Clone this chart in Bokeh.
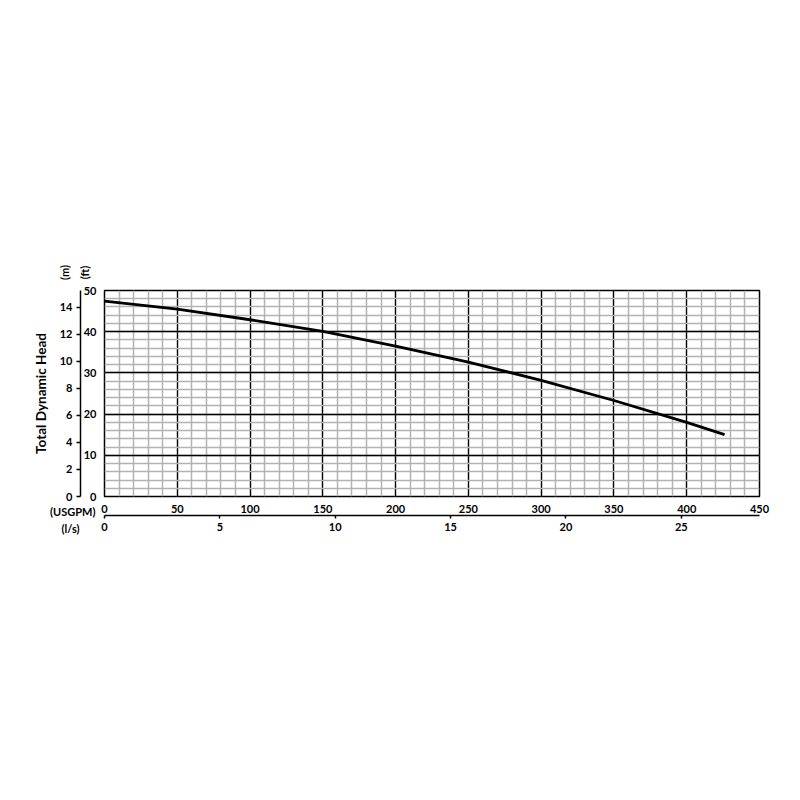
import math
from bokeh.plotting import figure
from bokeh.models import (Range1d, LinearAxis, SingleIntervalTicker, FixedTicker, Label)
from bokeh.embed import file_html
from bokeh.resources import INLINE

# Data: flow (USGPM) vs total dynamic head (ft)
flow_usgpm = [0, 50, 100, 150, 200, 250, 300, 350, 400, 426]
head_ft = [47.4, 45.5, 42.9, 40.1, 36.5, 32.6, 28.2, 23.3, 18.0, 15.0]

ft_ticks = [0, 10, 20, 30, 40, 50]
m_ticks = [0, 2, 4, 6, 8, 10, 12, 14]
usgpm_ticks = [0, 50, 100, 150, 200, 250, 300, 350, 400, 450]
ls_ticks = [0, 5, 10, 15, 20, 25]

FT_PER_M = 1 / 0.3048
USGPM_PER_LS = 15.850

FONT = "Lato"
H = 784

p = figure(frame_width=655, frame_height=206,
           x_range=Range1d(0, 450), y_range=Range1d(0, 50),
           output_backend="svg", toolbar_location=None,
           min_border_left=104, min_border_right=25,
           min_border_top=290, min_border_bottom=H - 290 - 206,
           x_axis_location="below", y_axis_location="left")
p.extra_y_ranges = {"m": Range1d(0, 50 / FT_PER_M)}
p.extra_x_ranges = {"ls": Range1d(0, 450 / USGPM_PER_LS)}

p.outline_line_color = "black"
p.outline_line_width = 1.5
p.background_fill_color = "white"
p.border_fill_color = "white"

# ft axis (default left)
ya = p.yaxis[0]
ya.ticker = SingleIntervalTicker(interval=10, num_minor_ticks=5)
ya.axis_line_color = None
ya.major_tick_out = 0
ya.major_tick_in = 0
ya.minor_tick_out = 0
ya.minor_tick_in = 0
ya.major_label_standoff = 8
ya.major_label_text_font = FONT
ya.major_label_text_font_style = "bold"
ya.major_label_text_font_size = "11px"
ya.major_label_text_color = "black"

# USGPM axis (default below)
xa = p.xaxis[0]
xa.ticker = SingleIntervalTicker(interval=50, num_minor_ticks=5)
xa.axis_line_color = None
xa.major_tick_out = 0
xa.major_tick_in = 0
xa.minor_tick_out = 0
xa.minor_tick_in = 0
xa.major_label_standoff = 8
xa.major_label_text_font = FONT
xa.major_label_text_font_style = "bold"
xa.major_label_text_font_size = "11px"
xa.major_label_text_color = "black"

# m axis
m_axis = LinearAxis(y_range_name="m", ticker=FixedTicker(ticks=m_ticks),
                    axis_label="Total Dynamic Head")
m_axis.axis_line_color = "black"
m_axis.axis_line_width = 1.5
m_axis.major_tick_out = 4
m_axis.major_tick_in = 0
m_axis.major_tick_line_width = 1.5
m_axis.minor_tick_out = 0
m_axis.minor_tick_in = 0
m_axis.major_label_standoff = 4
m_axis.major_label_text_font = FONT
m_axis.major_label_text_font_style = "bold"
m_axis.major_label_text_font_size = "11px"
m_axis.major_label_text_color = "black"
m_axis.axis_label_text_font = FONT
m_axis.axis_label_text_font_style = "bold"
m_axis.axis_label_text_font_size = "13.5px"
m_axis.axis_label_text_color = "black"
m_axis.axis_label_standoff = 8
p.add_layout(m_axis, "left")

# l/s axis
ls_axis = LinearAxis(x_range_name="ls", ticker=FixedTicker(ticks=ls_ticks))
ls_axis.axis_line_color = "black"
ls_axis.axis_line_width = 1.5
ls_axis.major_tick_out = 3
ls_axis.major_tick_in = 0
ls_axis.major_tick_line_width = 1.5
ls_axis.minor_tick_out = 0
ls_axis.minor_tick_in = 0
ls_axis.major_label_standoff = 4
ls_axis.major_label_text_font = FONT
ls_axis.major_label_text_font_style = "bold"
ls_axis.major_label_text_font_size = "11px"
ls_axis.major_label_text_color = "black"
p.add_layout(ls_axis, "below")

# grids
for g in (p.xgrid[0], p.ygrid[0]):
    g.grid_line_color = "black"
    g.grid_line_width = 1.3
    g.minor_grid_line_color = "#b2b2b2"
    g.minor_grid_line_width = 1.5

# curve
p.line(flow_usgpm, head_ft, line_color="black", line_width=2.8)

# unit labels: anchored at data corners, shifted in pixels; placed in the
# (roomy) top side panel so they are not clipped to the plot frame
def unit_label(text, y, xo, yo, angle=0.0, align="right"):
    return Label(x=0, y=y, x_offset=xo, y_offset=yo, text=text, angle=angle,
                 text_align=align, text_baseline="middle",
                 text_font=FONT, text_font_style="bold",
                 text_font_size="11px", text_color="black")

p.add_layout(unit_label("(USGPM)", 0, -9, -15), "above")
p.add_layout(unit_label("(l/s)", 0, -25, -32), "above")
p.add_layout(unit_label("(m)", 50, -40, 18, angle=math.pi / 2, align="center"), "above")
p.add_layout(unit_label("(ft)", 50, -20, 18, angle=math.pi / 2, align="center"), "above")

open("out.html", "w").write(file_html(p, INLINE))
